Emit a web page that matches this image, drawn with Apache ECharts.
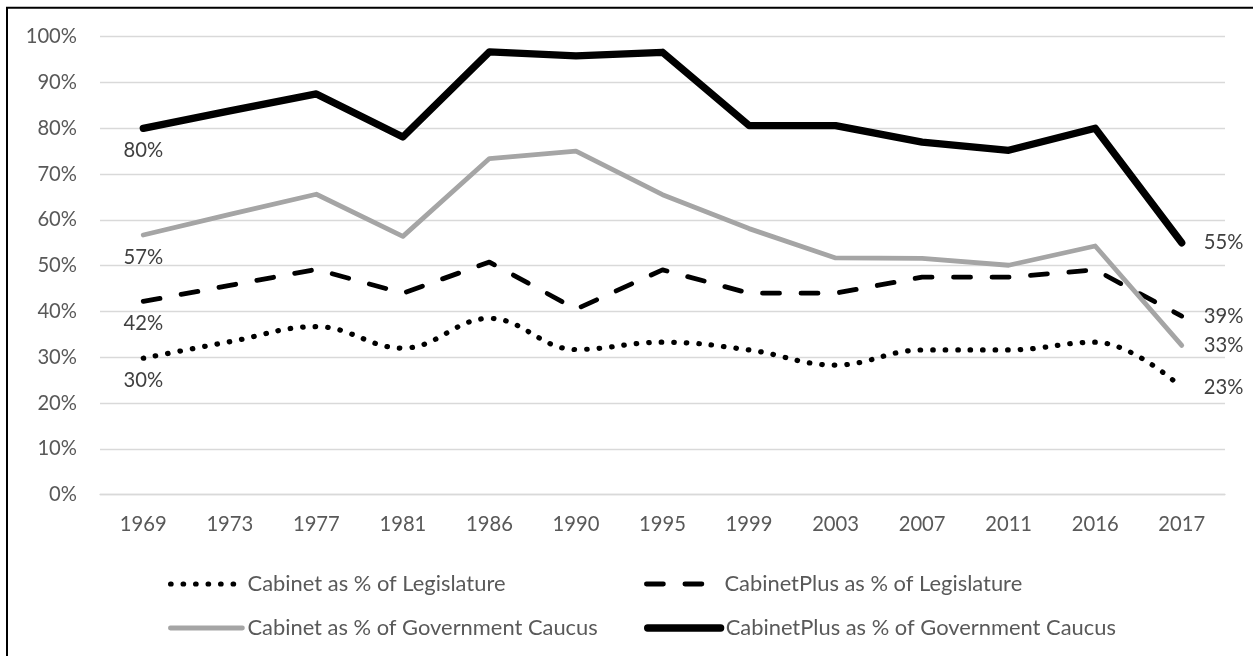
<!DOCTYPE html>
<html>
<head>
<meta charset="utf-8">
<script src="https://cdn.jsdelivr.net/npm/echarts@6/dist/echarts.min.js"></script>
<style>
html,body{margin:0;padding:0;background:#fff;}
#chart{width:1253px;height:656px;}
</style>
</head>
<body>
<div id="chart"></div>
<script>
const years = ['1969','1973','1977','1981','1986','1990','1995','1999','2003','2007','2011','2016','2017'];
const cabinetLegislature = [29.8, 33.4, 36.7, 32.0, 38.5, 31.7, 33.3, 31.6, 28.3, 31.6, 31.6, 33.3, 23.4];
const cabinetPlusLegislature = [42.2, 45.7, 49.2, 44.0, 50.8, 40.5, 49.1, 44.0, 44.0, 47.5, 47.5, 49.1, 39.0];
const cabinetCaucus = [56.7, 61.2, 65.6, 56.4, 73.4, 75.0, 65.5, 58.1, 51.7, 51.6, 50.1, 54.3, 32.6];
const cabinetPlusCaucus = [80.0, 83.8, 87.5, 78.1, 96.7, 95.8, 96.6, 80.6, 80.6, 77.0, 75.2, 80.0, 55.0];
const seriesNames = ['Cabinet as % of Legislature','CabinetPlus as % of Legislature','Cabinet as % of Government Caucus','CabinetPlus as % of Government Caucus'];
const yTicks = {min: 0, max: 100, interval: 10};

const FONT = 'Lato';

// fit font sizes so text extents match the reference
const ctx = document.createElement('canvas').getContext('2d');
function widthAt(text, size) { ctx.font = size + 'px ' + FONT; return ctx.measureText(text).width; }
function fitSize(pairs) {
  let s = 0;
  pairs.forEach(([t, w]) => { s += 20 * w / widthAt(t, 20); });
  return Math.round(s / pairs.length * 10) / 10;
}
const FS_LEG = fitSize([[seriesNames[2], 352], [seriesNames[3], 390], [seriesNames[1], 298]]);
const FS = fitSize([['1969', 47.3], ['100%', 50.7]]);

const labelFmt = p => Math.round(p.value) + '%';

const styles = [
  {color: '#000', width: 5.2, type: [0.5, 12], cap: 'round', join: 'round'},
  {color: '#000', width: 4.8, type: [17, 21.5], cap: 'round', join: 'round'},
  {color: '#a5a5a5', width: 4.8, type: 'solid', cap: 'round', join: 'round'},
  {color: '#000', width: 7.3, type: 'solid', cap: 'round', join: 'round'}
];

function withEndLabels(arr) {
  return arr.map((v, i) => {
    if (i === 0) return {value: v, label: {show: true, position: 'bottom', distance: 12}};
    if (i === arr.length - 1) return {value: v, label: {show: true, position: 'right', distance: 22}};
    return v;
  });
}

function makeSeries(name, data, lineStyle, smooth) {
  return {
    name: name,
    type: 'line',
    data: withEndLabels(data),
    symbol: 'circle',
    symbolSize: 0,
    smooth: smooth || false,
    lineStyle: lineStyle,
    itemStyle: {color: lineStyle.color},
    label: {show: false, formatter: labelFmt, color: '#404040', fontSize: FS, fontFamily: FONT},
    emphasis: {disabled: true},
    animation: false
  };
}

const chart = echarts.init(document.getElementById('chart'), null, {renderer: 'canvas'});

function legendAt(i, left, top, iw) {
  return {
    data: [seriesNames[i]],
    left: left,
    top: top,
    orient: 'horizontal',
    itemWidth: iw,
    itemHeight: 22,
    itemGap: 0,
    selectedMode: false,
    itemStyle: {opacity: 0, borderWidth: 0},
    lineStyle: Object.assign({}, styles[i], {opacity: 1}),
    textStyle: {color: '#595959', fontSize: FS_LEG, fontFamily: FONT, lineHeight: 22}
  };
}

chart.setOption({
  backgroundColor: '#ffffff',
  textStyle: {fontFamily: FONT},
  animation: false,
  grid: {left: 100, right: 28, top: 36.7, bottom: 161.3, containLabel: false},
  legend: [
    legendAt(0, 163, 568, 72),
    legendAt(1, 639, 568, 73),
    legendAt(2, 163, 612, 72),
    legendAt(3, 639, 612, 73)
  ],
  xAxis: {
    type: 'category',
    data: years,
    boundaryGap: true,
    axisLine: {show: true, lineStyle: {color: '#d9d9d9', width: 1.3}},
    axisTick: {show: false},
    axisLabel: {color: '#595959', fontSize: FS, fontFamily: FONT, margin: 20}
  },
  yAxis: {
    type: 'value',
    min: yTicks.min,
    max: yTicks.max,
    interval: yTicks.interval,
    axisLine: {show: false},
    axisTick: {show: false},
    splitLine: {lineStyle: {color: '#d9d9d9', width: 1.3}},
    axisLabel: {color: '#595959', fontSize: FS, fontFamily: FONT, margin: 23, formatter: '{value}%'}
  },
  graphic: [{
    type: 'polyline',
    shape: {points: [[7, 660], [7, 7.8], [1260, 7.8]]},
    style: {stroke: '#000', lineWidth: 2, fill: null},
    z: 100
  }],
  series: [
    makeSeries(seriesNames[0], cabinetLegislature, styles[0], 0.4),
    makeSeries(seriesNames[1], cabinetPlusLegislature, styles[1]),
    makeSeries(seriesNames[2], cabinetCaucus, styles[2]),
    makeSeries(seriesNames[3], cabinetPlusCaucus, styles[3])
  ]
});
</script>
</body>
</html>
